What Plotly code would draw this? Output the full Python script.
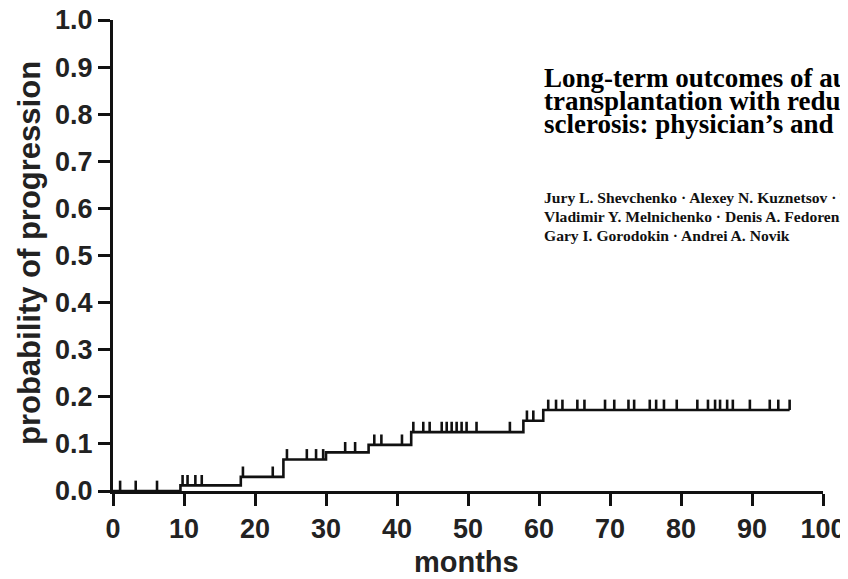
import plotly.graph_objects as go

# ---- data ----
step_months = [0, 9.5, 18, 24, 30, 36, 42, 57.8, 60.6, 95.3]
step_prob = [0.0, 0.012, 0.03, 0.067, 0.082, 0.098, 0.125, 0.149, 0.172, 0.172]

censor_months = [1, 3.2, 6.2, 9.8, 10.5, 11.6, 12.5, 18.3, 22.5, 24.5, 27.3, 28.6, 29.6,
                 32.7, 34.1, 36.8, 37.8, 40.7, 42.3, 43.7, 44.6, 46.3, 47.0, 47.7, 48.4,
                 49.1, 49.8, 51.2, 55.9, 58.3, 59.2, 61.3, 62.4, 63.3, 65.4, 66.4, 69.3,
                 70.6, 72.6, 73.4, 75.6, 76.5, 77.6, 79.4, 82.3, 83.8, 84.8, 85.5, 86.5,
                 87.3, 89.7, 92.5, 93.7, 95.3]

x_ticks = [0, 10, 20, 30, 40, 50, 60, 70, 80, 90, 100]
y_ticks = [0.0, 0.1, 0.2, 0.3, 0.4, 0.5, 0.6, 0.7, 0.8, 0.9, 1.0]

x_title = "months"
y_title = "probability of progression"

title_lines = ["Long-term outcomes of autologous hematopoietic stem cell",
               "transplantation with reduced-intensity conditioning in multiple",
               "sclerosis: physician\u2019s and patient\u2019s perspectives"]
author_lines = ["Jury L. Shevchenko \u00b7 Alexey N. Kuznetsov \u00b7 Tatiana I. Ionova \u00b7",
                "Vladimir Y. Melnichenko \u00b7 Denis A. Fedorenko \u00b7 Kirill A. Kishtovich \u00b7",
                "Gary I. Gorodokin \u00b7 Andrei A. Novik"]

TICK_H = 0.022  # censor tick height in probability units


def level_at(t):
    p = step_prob[0]
    for m, v in zip(step_months, step_prob):
        if m <= t:
            p = v
    return p


cx, cy = [], []
for t in censor_months:
    y0 = level_at(t)
    cx += [t, t, None]
    cy += [y0, y0 + TICK_H, None]

fig = go.Figure()
fig.add_trace(go.Scatter(x=step_months, y=step_prob, mode="lines",
                         line=dict(color="#111111", width=2.6, shape="hv"),
                         hoverinfo="skip", showlegend=False))
fig.add_trace(go.Scatter(x=cx, y=cy, mode="lines",
                         line=dict(color="#111111", width=2.6),
                         hoverinfo="skip", showlegend=False))

axis_common = dict(showline=True, linewidth=3, linecolor="#111111", mirror=False,
                   ticks="outside", ticklen=12, tickwidth=3, tickcolor="#111111",
                   showgrid=False, zeroline=False, ticklabeloverflow="allow",
                   tickfont=dict(family="Liberation Sans, Arial", size=27, color="#222222",
                                 weight="bold"))

fig.update_xaxes(range=[0, 100], tickvals=x_ticks, ticktext=[str(v) for v in x_ticks],
                 **axis_common)
fig.update_yaxes(range=[0, 1.0], tickvals=y_ticks, ticktext=[f"{v:.1f}" for v in y_ticks],
                 **axis_common)

# plot area in page pixels: x 113..823, y 20..491 (page has an 8px body margin)
PX0, PX1, PY0, PY1 = 113, 823, 20, 491


def px_to_paper_x(px):
    return (px - PX0) / (PX1 - PX0)


def px_to_paper_y(py):
    return (PY1 - py) / (PY1 - PY0)


annotations = [
    dict(text=y_title, xref="paper", yref="paper", x=px_to_paper_x(29), y=px_to_paper_y(253),
         xanchor="center", yanchor="middle", textangle=-90, showarrow=False,
         font=dict(family="Liberation Sans, Arial", size=31, color="#222222", weight="bold")),
    dict(text=x_title, xref="paper", yref="paper", x=px_to_paper_x(466), y=px_to_paper_y(562),
         xanchor="center", yanchor="middle", showarrow=False,
         font=dict(family="Liberation Sans, Arial", size=29, color="#222222", weight="bold")),
]
title_y_px = [78, 101, 124]
for txt, ypx in zip(title_lines, title_y_px):
    annotations.append(dict(text=txt, xref="paper", yref="paper",
                            x=px_to_paper_x(542), y=px_to_paper_y(ypx),
                            xanchor="left", yanchor="middle", showarrow=False,
                            font=dict(family="Liberation Serif, Times New Roman", size=27,
                                      color="#000000", weight="bold")))
author_y_px = [197, 216, 235]
for txt, ypx in zip(author_lines, author_y_px):
    annotations.append(dict(text=txt, xref="paper", yref="paper",
                            x=px_to_paper_x(542), y=px_to_paper_y(ypx),
                            xanchor="left", yanchor="middle", showarrow=False,
                            font=dict(family="Liberation Serif, Times New Roman", size=15.6,
                                      color="#111111", weight="bold")))

W, H = 848, 579
fig.update_layout(width=W, height=H,
                  margin=dict(l=PX0 - 8, r=W - (PX1 - 8), t=PY0 - 8, b=H - (PY1 - 8),
                              autoexpand=False),
                  plot_bgcolor="white", paper_bgcolor="white", annotations=annotations)

fig.write_html("out.html")
